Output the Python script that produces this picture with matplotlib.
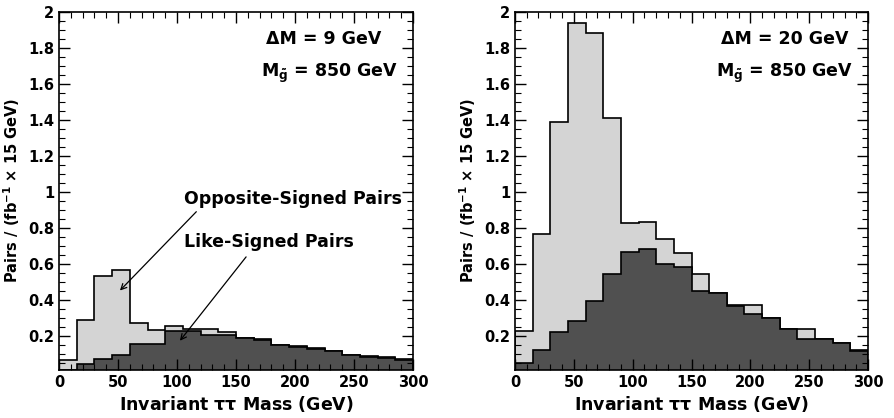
import numpy as np
import matplotlib
matplotlib.use('Agg')
import matplotlib.pyplot as plt
from matplotlib.ticker import MultipleLocator

plt.rcParams['font.family'] = ['DejaVu Sans']
plt.rcParams['font.weight'] = 'bold'
plt.rcParams['mathtext.fontset'] = 'custom'
plt.rcParams['mathtext.rm'] = 'DejaVu Sans:bold'
plt.rcParams['mathtext.it'] = 'DejaVu Sans:bold'
plt.rcParams['mathtext.bf'] = 'DejaVu Sans:bold'

# 15 GeV bins from 0 to 300 GeV
bin_edges = np.arange(0, 301, 15)

# Delta M = 9 GeV
opp_9 = [0.067, 0.285, 0.533, 0.567, 0.27, 0.23, 0.256, 0.235, 0.24, 0.22,
         0.19, 0.18, 0.15, 0.145, 0.13, 0.115, 0.095, 0.085, 0.08, 0.07]
like_9 = [0.012, 0.044, 0.07, 0.093, 0.155, 0.155, 0.228, 0.228, 0.204, 0.206,
          0.187, 0.174, 0.15, 0.14, 0.126, 0.113, 0.094, 0.081, 0.077, 0.067]

# Delta M = 20 GeV
opp_20 = [0.225, 0.766, 1.39, 1.94, 1.88, 1.41, 0.827, 0.83, 0.74, 0.657,
          0.545, 0.44, 0.37, 0.37, 0.296, 0.24, 0.24, 0.184, 0.16, 0.123]
like_20 = [0.05, 0.118, 0.22, 0.28, 0.395, 0.543, 0.666, 0.684, 0.6, 0.582,
           0.45, 0.44, 0.364, 0.318, 0.296, 0.24, 0.184, 0.18, 0.16, 0.114]

light_col = '#d4d4d4'
dark_col = '#505050'

fig = plt.figure(figsize=(8.94, 4.18), dpi=100)
ax1 = fig.add_axes([0.066, 0.115, 0.396, 0.857])
ax2 = fig.add_axes([0.576, 0.115, 0.395, 0.857])


def draw_panel(ax, opp, like, dm_text, dm_x):
    ax.stairs(opp, bin_edges, fill=True, facecolor=light_col, edgecolor='none')
    ax.stairs(opp, bin_edges, color='black', lw=1.2)
    ax.stairs(like, bin_edges, fill=True, facecolor=dark_col, edgecolor='none')
    ax.stairs(like, bin_edges, color='black', lw=1.2)
    ax.set_xlim(0, 300)
    ax.set_ylim(0.01, 2)
    ax.xaxis.set_major_locator(MultipleLocator(50))
    ax.xaxis.set_minor_locator(MultipleLocator(10))
    ax.yaxis.set_minor_locator(MultipleLocator(0.05))
    ax.set_yticks(np.arange(0.2, 2.01, 0.2))
    ax.set_yticklabels(['0.2', '0.4', '0.6', '0.8', '1', '1.2', '1.4', '1.6', '1.8', '2'])
    ax.tick_params(which='both', direction='in', top=True, right=True, labelsize=10.5)
    ax.tick_params(which='major', length=8, width=1)
    ax.tick_params(which='minor', length=4, width=0.8)
    for s in ax.spines.values():
        s.set_linewidth(1.2)
    ax.set_xlabel(r'Invariant $\tau\tau$ Mass (GeV)', fontsize=12.5, fontweight='bold',
                  labelpad=3)
    ax.set_ylabel('Pairs / (fb$^{-1}$ ' + '\u00d7' + ' 15 GeV)', fontsize=10.5,
                  fontweight='bold', labelpad=4)
    ax.text(dm_x, 1.85, dm_text, ha='right', va='center', fontsize=12.5, fontweight='bold')
    ax.text(287, 1.66, r'M$_{\tilde{g}}$ = 850 GeV', ha='right', va='center',
            fontsize=12.5, fontweight='bold')


draw_panel(ax1, opp_9, like_9, '\u0394M = 9 GeV', 273)
draw_panel(ax2, opp_20, like_20, '\u0394M = 20 GeV', 283)

ax1.text(106, 0.96, 'Opposite-Signed Pairs', fontsize=12.5, fontweight='bold', va='center')
ax1.annotate('', xy=(50, 0.44), xytext=(118, 0.90),
             arrowprops=dict(arrowstyle='->', color='black', lw=0.9))
ax1.text(106, 0.72, 'Like-Signed Pairs', fontsize=12.5, fontweight='bold', va='center')
ax1.annotate('', xy=(101, 0.16), xytext=(160, 0.65),
             arrowprops=dict(arrowstyle='->', color='black', lw=0.9))

fig.savefig('out.png', dpi=100)
